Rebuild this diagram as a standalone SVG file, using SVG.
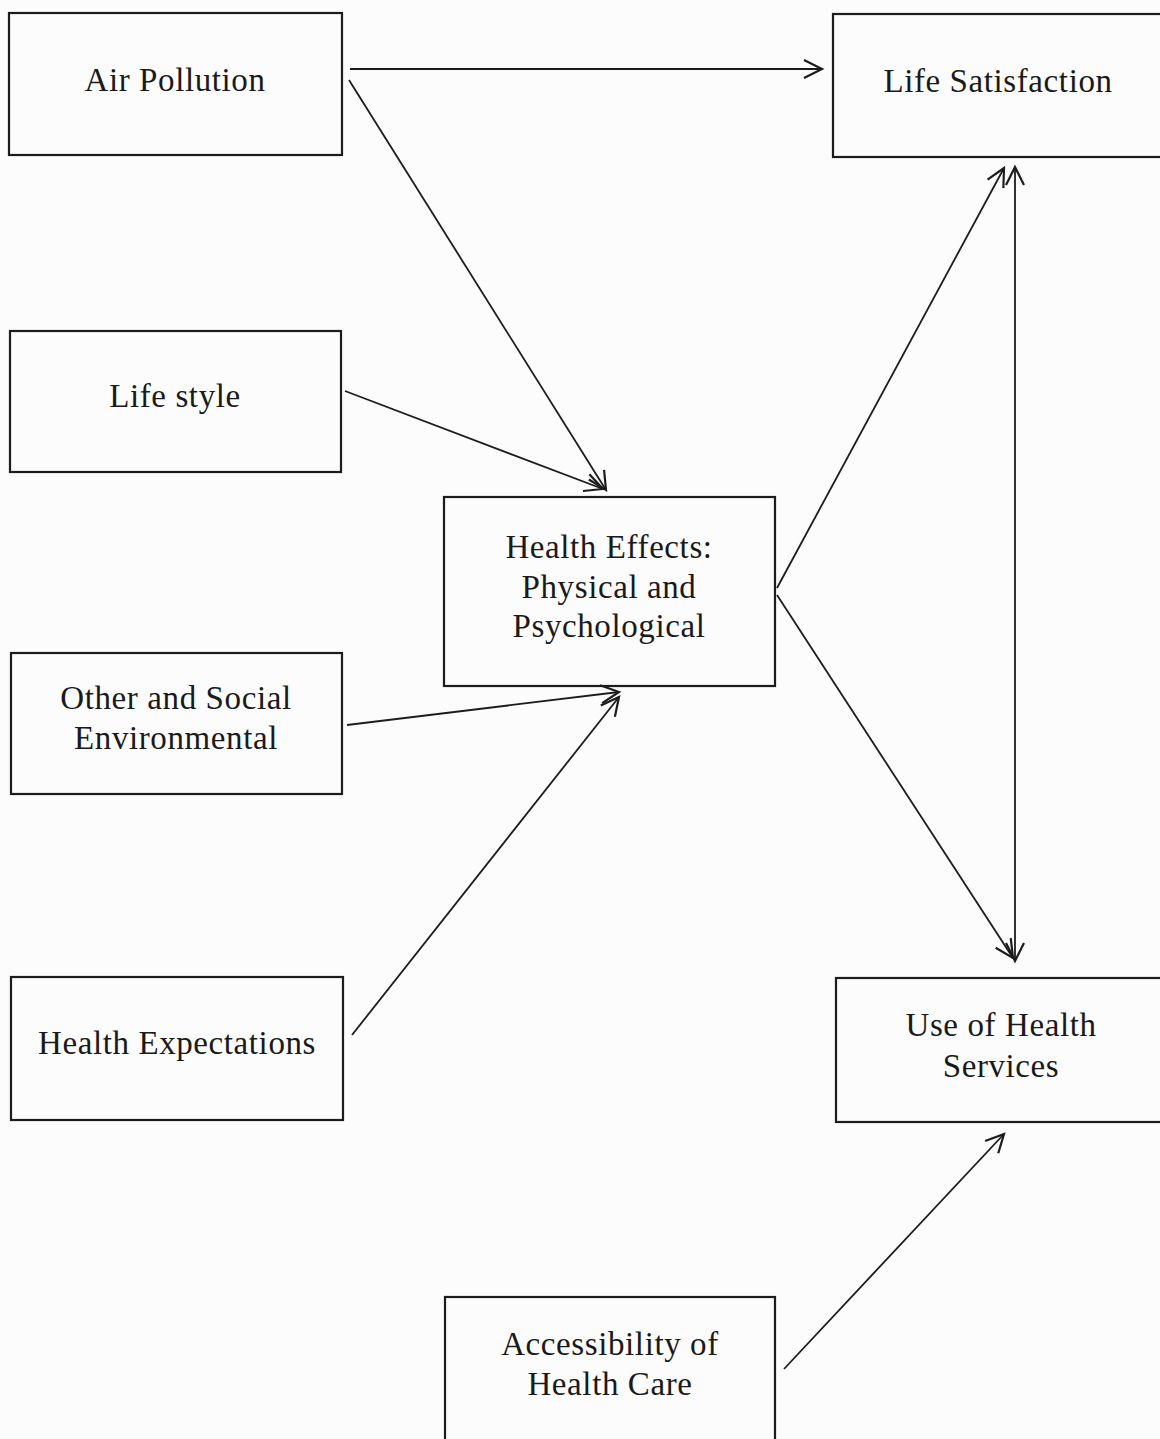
<svg xmlns="http://www.w3.org/2000/svg" width="1160" height="1439" viewBox="0 0 1160 1439">
<style>
.box{fill:none;stroke:#1c1c1c;stroke-width:2.2}
.lbl{font-family:"Liberation Serif","Times New Roman",serif;font-size:33px;fill:#1a1a1a;text-anchor:middle;letter-spacing:0.6px}
.con{fill:none;stroke:#1c1c1c;stroke-width:1.8}
</style>
<defs>
<marker id="ah" viewBox="0 0 24 24" refX="21" refY="12" markerWidth="24" markerHeight="24" markerUnits="userSpaceOnUse" orient="auto-start-reverse">
<polyline points="3,3 21,12 3,21" fill="none" stroke="#1c1c1c" stroke-width="2.2"/>
</marker>
</defs>
<rect width="1160" height="1439" fill="#fcfcfc"/>
<g id="air-pollution"><rect class="box" x="9" y="13" width="333" height="142"/><text class="lbl" x="175" y="91">Air Pollution</text></g>
<g id="life-satisfaction"><rect class="box" x="833" y="14" width="340" height="143"/><text class="lbl" x="998" y="92">Life Satisfaction</text></g>
<g id="life-style"><rect class="box" x="10" y="331" width="331" height="141"/><text class="lbl" x="175" y="407">Life style</text></g>
<g id="health-effects"><rect class="box" x="444" y="497" width="331" height="189"/><text class="lbl" x="609" y="558">Health Effects:</text><text class="lbl" x="609" y="598">Physical and</text><text class="lbl" x="609" y="637">Psychological</text></g>
<g id="other-social"><rect class="box" x="11" y="653" width="331" height="141"/><text class="lbl" x="176" y="709">Other and Social</text><text class="lbl" x="176" y="749">Environmental</text></g>
<g id="health-expectations"><rect class="box" x="11" y="977" width="332" height="143"/><text class="lbl" x="177" y="1054">Health Expectations</text></g>
<g id="use-health-services"><rect class="box" x="836" y="978" width="340" height="144"/><text class="lbl" x="1001" y="1036">Use of Health</text><text class="lbl" x="1001" y="1077">Services</text></g>
<g id="accessibility"><rect class="box" x="445" y="1297" width="330" height="160"/><text class="lbl" x="610" y="1355">Accessibility of</text><text class="lbl" x="610" y="1395">Health Care</text></g>
<g id="connectors">
<line class="con" x1="350" y1="69" x2="822" y2="69" marker-end="url(#ah)"/>
<line class="con" x1="349" y1="80" x2="606" y2="490" marker-end="url(#ah)"/>
<line class="con" x1="345" y1="391" x2="603" y2="489" marker-end="url(#ah)"/>
<line class="con" x1="347" y1="725" x2="619" y2="692" marker-end="url(#ah)"/>
<line class="con" x1="352" y1="1035" x2="619" y2="697" marker-end="url(#ah)"/>
<line class="con" x1="777" y1="588" x2="1004" y2="168" marker-end="url(#ah)"/>
<line class="con" x1="777" y1="595" x2="1013" y2="958" marker-end="url(#ah)"/>
<line class="con" x1="1015" y1="167" x2="1015" y2="961" marker-start="url(#ah)" marker-end="url(#ah)"/>
<line class="con" x1="784" y1="1369" x2="1004" y2="1134" marker-end="url(#ah)"/>
</g>
</svg>
